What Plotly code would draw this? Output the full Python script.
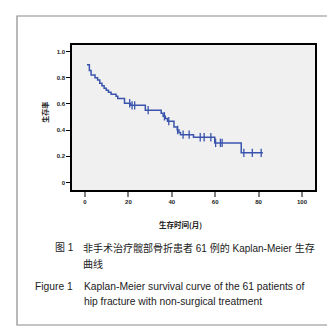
import plotly.graph_objects as go

# ---- data ----
step_times = [0.9, 2.0, 2.8, 4.6, 5.8, 6.8, 7.8, 8.8, 9.8, 10.8, 12.0, 14.3, 15.1,
              18.2, 21.0, 27.8, 35.1, 36.0, 37.0, 38.0, 41.0, 42.5, 43.3, 44.0,
              50.0, 59.8, 72.0, 82.0]
step_surv = [0.900, 0.855, 0.820, 0.800, 0.783, 0.757, 0.738, 0.720, 0.705, 0.689,
             0.673, 0.658, 0.642, 0.605, 0.589, 0.552, 0.528, 0.505, 0.488, 0.468,
             0.424, 0.401, 0.381, 0.365, 0.345, 0.302, 0.226, 0.226]
censor_times = [20.6, 21.7, 22.9, 29.1, 36.6, 38.6, 42.7, 45.2, 48.0, 53.1, 54.9,
                58.0, 60.2, 62.4, 63.2, 73.2, 77.1, 81.2]

x_ticks = [0, 20, 40, 60, 80, 100]
x_ticklabels = ["0", "20", "40", "60", "80", "100"]
y_ticks = [0, 0.2, 0.4, 0.6, 0.8, 1.0]
y_ticklabels = ["0", "0.2", "0.4", "0.6", "0.8", "1.0"]

x_title = "生存时间(月)"
y_title = "生存率"
cap_cn_label = "图 1"
cap_cn_1 = "非手术治疗髋部骨折患者 61 例的 Kaplan-Meier 生存"
cap_cn_2 = "曲线"
cap_en_label = "Figure 1"
cap_en_1 = "Kaplan-Meier survival curve of the 61 patients of"
cap_en_2 = "hip fracture with non-surgical treatment"


def surv_at(t):
    s = step_surv[0]
    for tt, ss in zip(step_times, step_surv):
        if tt <= t:
            s = ss
    return s


censor_surv = [surv_at(t) for t in censor_times]

W, H = 335, 332
ML, MR, MT, MB = 64, 28, 37, 150
PW, PH = W - ML - MR, H - MT - MB


def px(x):
    return (x - ML) / PW


def py(y):
    return (H - MB - y) / PH


BLUE = "#3a54ad"
LAT = "Liberation Sans, Arial, Noto Sans CJK SC"
CJK = "Noto Sans CJK SC, Liberation Sans"

fig = go.Figure()
fig.add_trace(go.Scatter(x=step_times, y=step_surv, mode="lines",
                         line=dict(shape="hv", color=BLUE, width=1.5),
                         hoverinfo="skip", showlegend=False))
fig.add_trace(go.Scatter(x=censor_times, y=censor_surv, mode="markers",
                         marker=dict(symbol="line-ns", size=6,
                                     line=dict(color=BLUE, width=1.3)),
                         hoverinfo="skip", showlegend=False))

fig.update_layout(
    width=W, height=H,
    margin=dict(l=ML, r=MR, t=MT, b=MB, pad=0),
    paper_bgcolor="white", plot_bgcolor="#f0f0f0",
    xaxis=dict(range=[-6, 106], tickvals=x_ticks, ticktext=x_ticklabels,
               ticks="outside", ticklen=5, tickwidth=1.6, tickcolor="#808080",
               showgrid=False, zeroline=False, showline=True, mirror=True,
               linecolor="black", linewidth=1.5,
               tickfont=dict(family=LAT, size=6, color="#222", weight="bold")),
    yaxis=dict(range=[-0.058, 1.05], tickvals=y_ticks, ticktext=y_ticklabels,
               ticks="outside", ticklen=4, tickwidth=1, tickcolor="black",
               showgrid=False, zeroline=False, showline=True, mirror=True,
               linecolor="black", linewidth=1.5,
               tickfont=dict(family=LAT, size=6, color="#222", weight="bold")),
    shapes=[dict(type="rect", xref="paper", yref="paper",
                 x0=px(9), x1=px(326), y0=py(317), y1=py(8),
                 line=dict(color="#8a8a8a", width=1.2), fillcolor="rgba(0,0,0,0)",
                 layer="below")],
)

ann = []
ann.append(dict(text=x_title, x=px(172.5), y=py(216), xanchor="center", yanchor="middle",
                font=dict(family=CJK, size=7.5, color="#222", weight="bold")))
ann.append(dict(text=y_title, x=px(36.7), y=py(104), xanchor="center", yanchor="middle",
                textangle=-90, font=dict(family=CJK, size=7, color="#222", weight="bold")))
ann.append(dict(text=cap_cn_label, x=px(45), y=py(239.5), xanchor="left", yanchor="middle",
                font=dict(family=LAT, size=10, color="#222")))
ann.append(dict(text=cap_cn_1, x=px(72.5), y=py(239.5), xanchor="left", yanchor="middle",
                font=dict(family=LAT, size=10, color="#222")))
ann.append(dict(text=cap_cn_2, x=px(72.5), y=py(256), xanchor="left", yanchor="middle",
                font=dict(family=LAT, size=10, color="#222")))
ann.append(dict(text=cap_en_label, x=px(25), y=py(278), xanchor="left", yanchor="middle",
                font=dict(family=LAT, size=10.3, color="#222")))
ann.append(dict(text=cap_en_1, x=px(74), y=py(278), xanchor="left", yanchor="middle",
                font=dict(family=LAT, size=10.3, color="#222")))
ann.append(dict(text=cap_en_2, x=px(74), y=py(293.5), xanchor="left", yanchor="middle",
                font=dict(family=LAT, size=10.3, color="#222")))
for a in ann:
    a.update(xref="paper", yref="paper", showarrow=False)
fig.update_layout(annotations=ann)

fig.write_html("out.html")
